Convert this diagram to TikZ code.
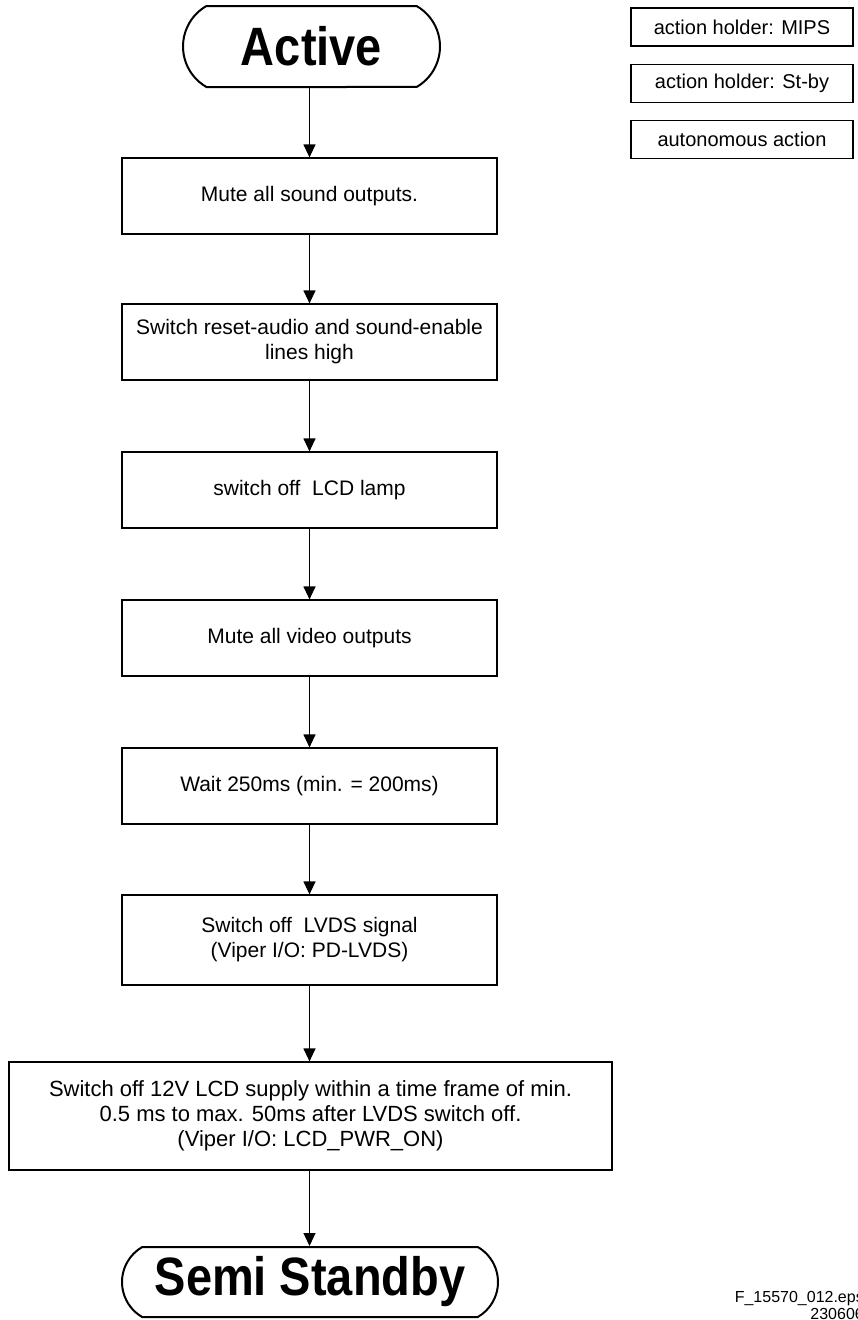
\documentclass[tikz,border=0pt]{standalone}
\usepackage{fontspec}
\setmainfont{Liberation Sans}
\usepackage{graphicx}
\usetikzlibrary{shapes.misc,arrows.meta}
\begin{document}
\begin{tikzpicture}[x=1pt,y=-1pt,
  stepbox/.style={draw, line width=1.2pt, minimum width=375pt, minimum height=76pt, align=center, font=\fontsize{21}{25}\selectfont, inner sep=0pt},
  term/.style={draw, line width=2pt, rounded rectangle, rounded rectangle arc length=120, inner sep=0pt},
  legendbox/.style={draw, line width=1.2pt, minimum width=222pt, minimum height=38pt, font=\fontsize{20}{22}\selectfont, inner sep=0pt},
  flow/.style={line width=1.2pt, -{Triangle[length=13pt,width=12pt]}}
]
\useasboundingbox (0,0) rectangle (857,1320);

\node[term, minimum width=257pt, minimum height=81pt] (active) at (311.5,46.5) {\scalebox{0.87}[1]{\fontsize{54}{54}\selectfont\bfseries Active}};

\node[stepbox] (b1) at (309.5,196) {Mute all sound outputs.};
\node[stepbox] (b2) at (309.5,342) {Switch reset-audio and sound-enable\\lines high};
\node[stepbox] (b3) at (309.5,490) {switch off\ \ LCD lamp};
\node[stepbox] (b4) at (309.5,638) {Mute all video outputs};
\node[stepbox] (b5) at (309.5,786) {Wait 250ms (min. = 200ms)};
\node[stepbox, minimum height=90pt] (b6) at (309.5,940) {Switch off\ \ LVDS signal\\(Viper I/O: PD-LVDS)};
\node[stepbox, minimum width=603pt, minimum height=108pt, font=\fontsize{22}{25}\selectfont] (b7) at (310.5,1116) {Switch off 12V LCD supply within a time frame of min.\\0.5 ms to max. 50ms after LVDS switch off.\\(Viper I/O: LCD\_PWR\_ON)};

\node[term, minimum width=376pt, minimum height=70pt] (semi) at (310,1282) {\scalebox{0.87}[1]{\fontsize{54}{54}\selectfont\bfseries Semi Standby}};

\draw[flow] (active.south -| b1) -- (b1);
\draw[flow] (b1) -- (b2);
\draw[flow] (b2) -- (b3);
\draw[flow] (b3) -- (b4);
\draw[flow] (b4) -- (b5);
\draw[flow] (b5) -- (b6);
\draw[flow] (b6) -- (b6 |- b7.north);
\draw[flow] (b7.south -| b6) -- (b6 |- semi.north);

\node[legendbox] (l1) at (742,27) {action holder: MIPS};
\node[legendbox] (l2) at (742,83.5) {action holder: St-by};
\node[legendbox] (l3) at (742,139.5) {autonomous action};

\node[anchor=east, align=right, font=\fontsize{16}{17}\selectfont, inner sep=0pt] (fn) at (864,1305) {F\_15570\_012.eps\\230606};
\end{tikzpicture}
\end{document}
